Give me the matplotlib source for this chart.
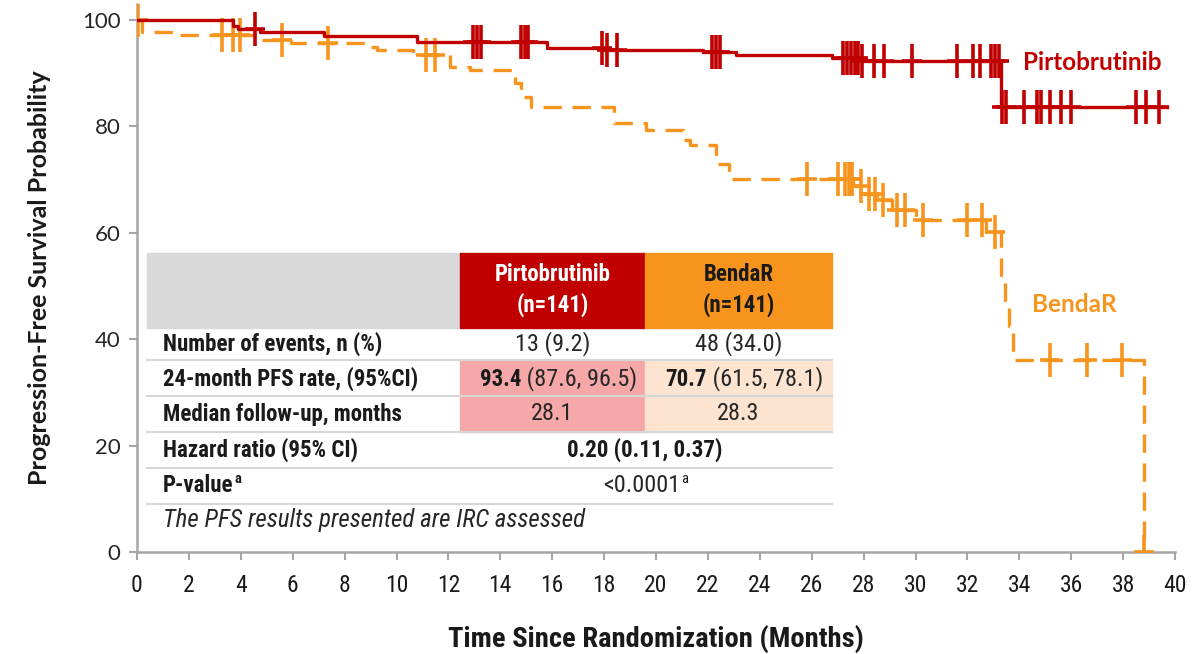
import numpy as np
import matplotlib
matplotlib.use("Agg")
import matplotlib.pyplot as plt
from matplotlib import font_manager
from matplotlib.patches import Rectangle

# ---- data ----
pirto_times = [0, 3.7, 3.9, 4.75, 7.2, 10.8, 15.8, 18.0, 21.8, 23.1, 26.8, 27.9, 33.3, 39.7]
pirto_surv = [100, 98.8, 98.3, 97.7, 96.9, 95.8, 94.7, 94.3, 94.0, 93.4, 92.9, 92.2, 83.7, 83.7]
pirto_censor = [4.55, 12.95, 13.1, 13.25, 14.8, 14.95, 15.05, 17.9, 18.1, 18.5,
                22.15, 22.3, 22.45, 27.2, 27.35, 27.5, 27.65, 27.8, 27.95, 28.4,
                28.8, 29.85, 31.6, 32.2, 32.5, 32.9, 33.05, 33.2, 33.35, 33.5,
                34.2, 34.7, 34.85, 35.2, 35.6, 36.0, 38.5, 38.9, 39.4]

benda_times = [0, 0.2, 1.4, 4.75, 5.95, 8.85, 9.25, 10.65, 12.05, 12.85, 14.55,
               14.8, 15.2, 18.4, 19.6, 21.05, 21.3, 22.3, 22.8, 27.6, 28.0, 28.5,
               29.1, 30.0, 32.7, 33.3, 33.45, 33.6, 33.75, 38.8]
benda_surv = [100, 97.8, 97.2, 96.2, 95.6, 95.0, 94.3, 93.4, 91.2, 90.6, 88.1,
              85.5, 83.7, 80.7, 79.4, 77.4, 76.5, 73.0, 70.2, 68.7, 67.3, 66.2,
              64.3, 62.4, 60.2, 52.0, 47.0, 42.5, 36.1, 0]
benda_censor = [0.05, 3.26, 3.7, 3.97, 5.58, 7.37, 11.15, 11.5, 25.8, 27.0, 27.3,
                27.45, 27.55, 27.9, 28.2, 28.45, 28.75, 29.3, 29.6, 30.3, 32.0,
                32.55, 33.05, 35.2, 36.6, 37.95, 38.8]

x_ticks = list(range(0, 41, 2))
y_ticks = [0, 20, 40, 60, 80, 100]

header_labels = ["Pirtobrutinib\n(n=141)", "BendaR\n(n=141)"]
row_labels = ["Number of events, n (%)", "24-month PFS rate, (95%CI)",
              "Median follow-up, months", "Hazard ratio (95% CI)", "P-value"]
events = ["13 (9.2)", "48 (34.0)"]
pfs_rate = [("93.4", " (87.6, 96.5)"), ("70.7", " (61.5, 78.1)")]
median_fu = ["28.1", "28.3"]
hazard_ratio = "0.20 (0.11, 0.37)"
p_value = "<0.0001"
footnote = "The PFS results presented are IRC assessed"

RED = "#C00000"
ORANGE = "#F7941D"
TXT = "#1A1A1A"


def pick_font(candidates, fallback="DejaVu Sans"):
    names = {f.name for f in font_manager.fontManager.ttflist}
    for c in candidates:
        if c in names:
            return c
    return fallback


NARROW = pick_font(["Roboto Condensed", "Liberation Sans Narrow", "DejaVu Sans Condensed"])
PLAIN = pick_font(["Lato", "Open Sans", "Noto Sans"])


def surv_at(times, surv, t):
    i = np.searchsorted(times, t, side="right") - 1
    return np.asarray(surv)[i]


fig = plt.figure(figsize=(12.03, 6.54), dpi=100)
ax = fig.add_axes([137 / 1203, 102 / 654, 1038 / 1203, 548 / 654])

# curves
ax.step(benda_times, benda_surv, where="post", color=ORANGE, lw=2.4,
        linestyle=(0, (5.5, 3.2)), zorder=2)
ax.step(pirto_times, pirto_surv, where="post", color=RED, lw=2.4, zorder=4)

# censor marks
for times, surv, cens, col, z in [(benda_times, benda_surv, benda_censor, ORANGE, 3),
                                 (pirto_times, pirto_surv, pirto_censor, RED, 5)]:
    cy = [surv_at(times, surv, c) for c in cens]
    ax.plot(cens, cy, ls="none", marker="|", ms=24, mew=2.6, color=col, zorder=z)
    ax.plot(cens, cy, ls="none", marker="_", ms=15, mew=2.6, color=col, zorder=z)

ax.text(34.15, 92.0, "Pirtobrutinib", color=RED, fontsize=17.5, fontweight="bold",
        family=PLAIN, va="center", ha="left")
ax.text(34.5, 46.5, "BendaR", color=ORANGE, fontsize=17.5, fontweight="bold",
        family=PLAIN, va="center", ha="left")

ax.set_xlim(0, 40)
ax.set_ylim(0, 103)
ax.set_xticks(x_ticks)
ax.set_yticks(y_ticks)
ax.set_xticklabels([str(v) for v in x_ticks], family=NARROW, fontsize=17, color=TXT)
ax.set_yticklabels([str(v) for v in y_ticks], family=PLAIN, fontsize=16, color="#262626")
for s in ["top", "right"]:
    ax.spines[s].set_visible(False)
for s in ["left", "bottom"]:
    ax.spines[s].set_color("#A6A6A6")
    ax.spines[s].set_linewidth(1.8)
ax.tick_params(axis="x", length=6, width=1.5, color="#A6A6A6", pad=10)
ax.tick_params(axis="y", length=6, width=1.5, color="#A6A6A6", pad=6)
ax.set_xlabel("Time Since Randomization (Months)", family=NARROW, fontsize=20.5,
              fontweight="bold", color=TXT, labelpad=20)
ax.set_ylabel("Progression-Free Survival Probability", family=PLAIN, fontsize=18,
              fontweight="bold", color=TXT, labelpad=22)

# ---- table overlay in pixel coordinates ----
ov = fig.add_axes([0, 0, 1, 1], zorder=10)
ov.set_xlim(0, 1203)
ov.set_ylim(654, 0)
ov.axis("off")
ov.patch.set_alpha(0)

x0, x1, x2, x3 = 147, 460, 645, 832
ov.add_patch(Rectangle((x0, 328), x3 - x0, 210, color="white", zorder=1))
ov.add_patch(Rectangle((x0, 253), x1 - x0, 75, color="#D9D9D9", zorder=2))
ov.add_patch(Rectangle((x1, 253), x2 - x1, 75, color=RED, zorder=2))
ov.add_patch(Rectangle((x2, 253), x3 - x2, 75, color=ORANGE, zorder=2))
ov.add_patch(Rectangle((x1, 361), x2 - x1, 71, color="#F6A7A7", zorder=2))
ov.add_patch(Rectangle((x2, 361), x3 - x2, 71, color="#FCE4D0", zorder=2))
for yy in [360, 396, 432, 468, 504]:
    ov.plot([x0, x3], [yy, yy], color="#D6D6D6", lw=1.5, zorder=3)

tk = dict(family=NARROW, fontsize=16.5, va="center", zorder=4, color=TXT)
rg = {**tk, "fontsize": 17.5, "color": "#262626"}
ov.text((x1 + x2) / 2, 290, header_labels[0], ha="center", color="white",
        fontweight="bold", linespacing=1.3, **{k: v for k, v in tk.items() if k != "color"})
ov.text((x2 + x3) / 2, 290, header_labels[1], ha="center", fontweight="bold",
        linespacing=1.3, **tk)

row_y = [344, 379, 414, 450, 486]
labels = [ov.text(163, yy, lab, ha="left", fontweight="bold", **tk)
          for lab, yy in zip(row_labels, row_y)]

cx = [(x1 + x2) / 2, (x2 + x3) / 2]
for c, v in zip(cx, events):
    ov.text(c, row_y[0], v, ha="center", **rg)
for c, v in zip(cx, median_fu):
    ov.text(c, row_y[2], v, ha="center", **rg)
for split, (b, r) in zip([521, 707], pfs_rate):
    ov.text(split, row_y[1], b, ha="right", fontweight="bold", **tk)
    ov.text(split, row_y[1], r, ha="left", **rg)
ov.text(x2, row_y[3], hazard_ratio, ha="center", fontweight="bold", **tk)
pv = ov.text(x2 - 3, row_y[4], p_value, ha="center", **rg)
ov.text(163, 520, footnote, ha="left", style="italic", **{**rg, "fontsize": 18})

# superscript "a" right after P-value label and value
fig.canvas.draw()
rend = fig.canvas.get_renderer()
for t, bold in [(labels[4], "bold"), (pv, "normal")]:
    bb = t.get_window_extent(rend)
    xr = ov.transData.inverted().transform((bb.x1, bb.y1))[0]
    ov.text(xr + 1, row_y[4] - 7, "a", ha="left", fontweight=bold,
            **{**tk, "fontsize": 10.5})

fig.savefig("out.png", dpi=100)
